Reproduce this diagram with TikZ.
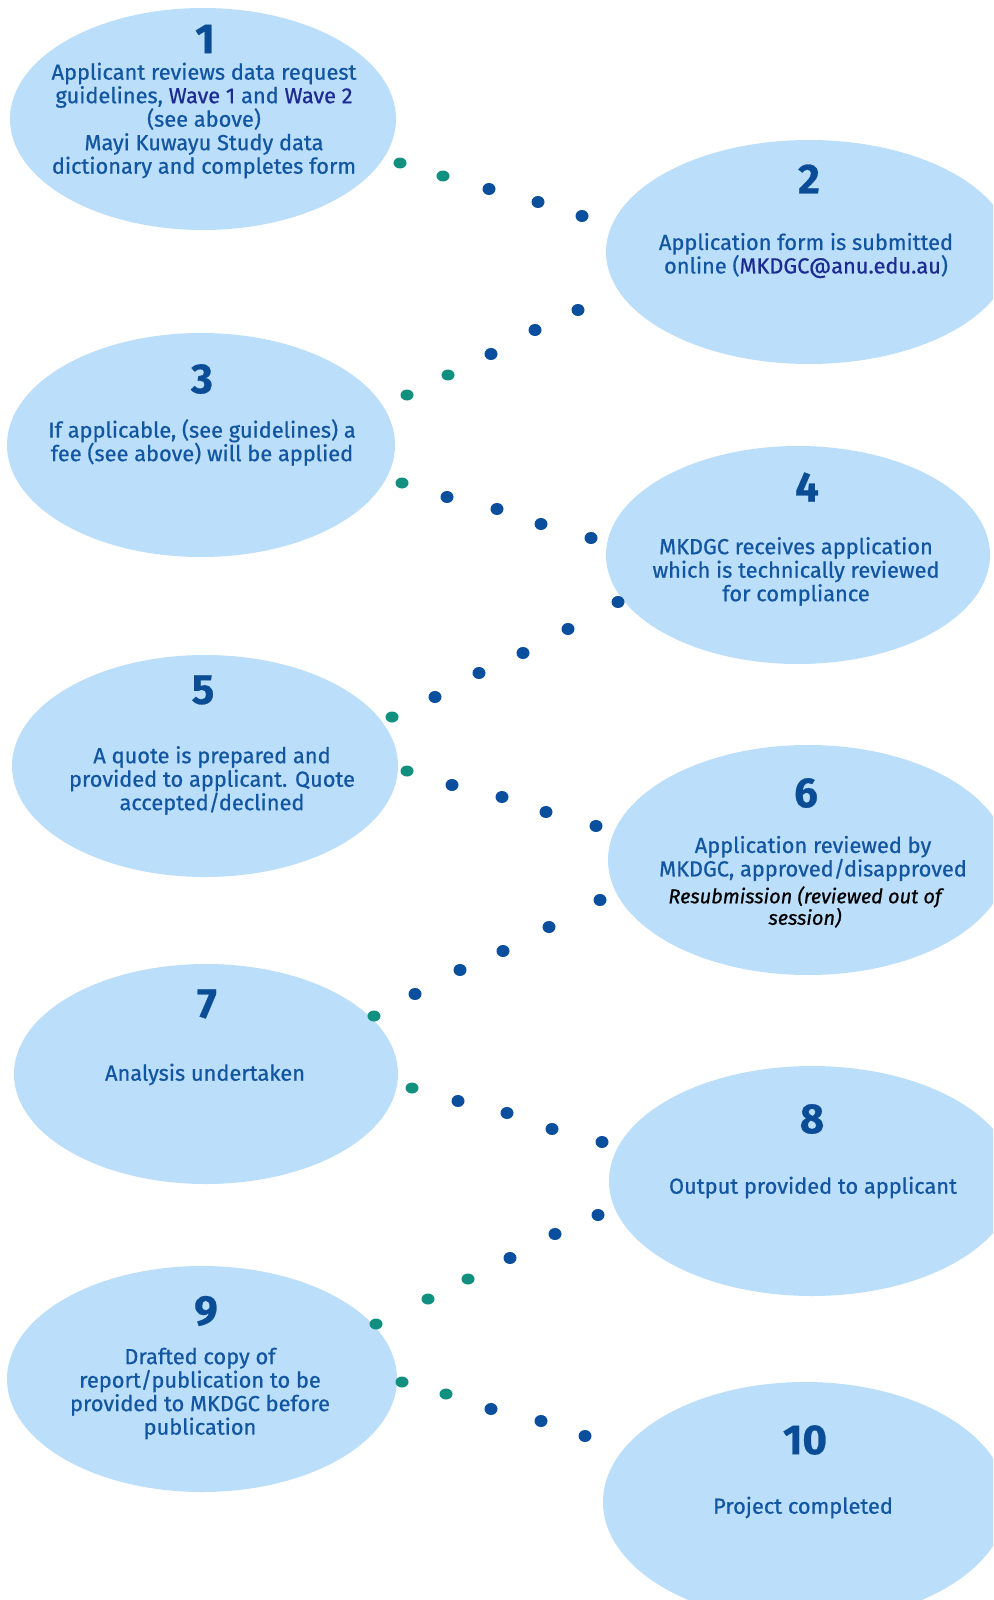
\documentclass[tikz,border=0pt]{standalone}
\usepackage{fontspec}
\setmainfont{Fira Sans}
\newfontfamily\medfont{Fira Sans}[FakeBold=0.7]
\newfontfamily\meditfont{Fira Sans Italic}[FakeBold=0.8]
\newfontfamily\numfont{Fira Sans Bold}[FakeBold=0.6]
\usetikzlibrary{shapes.geometric}
\definecolor{fillblue}{RGB}{187,222,250}
\definecolor{txtblue}{RGB}{18,86,162}
\definecolor{numblue}{RGB}{10,76,150}
\definecolor{linkblue}{RGB}{28,42,145}
\definecolor{dotblue}{RGB}{10,78,158}
\definecolor{dotteal}{RGB}{17,144,127}
\tikzset{
  bubble/.style={ellipse, fill=fillblue, draw=none, inner sep=0pt},
  num/.style={text=numblue, font=\numfont\fontsize{42}{44}\selectfont, inner sep=0pt},
  body/.style={text=txtblue, align=center, font=\medfont\fontsize{21.8}{23.5}\selectfont, inner sep=0pt},
  note/.style={text=black, align=center, font=\meditfont\fontsize{20}{21.5}\selectfont, inner sep=0pt},
  bd/.style={fill=dotblue},
  td/.style={fill=dotteal}
}
\newcommand{\dotb}[1]{\fill[bd] #1 ellipse (6.5 and 6);}
\newcommand{\dott}[1]{\fill[td] #1 ellipse (6.5 and 5.5);}
\begin{document}
\begin{tikzpicture}[x=1pt,y=-1pt]
\useasboundingbox (0,0) rectangle (993,1600);
\fill[white] (0,0) rectangle (993,1600);
\clip (0,0) rectangle (993,1600);
% bubbles
\node[bubble, minimum width=386, minimum height=222] (e1) at (203,119) {};
\node[bubble, minimum width=406, minimum height=224] (e2) at (809,252) {};
\node[bubble, minimum width=388, minimum height=224] (e3) at (201,445) {};
\node[bubble, minimum width=384, minimum height=218] (e4) at (798,555) {};
\node[bubble, minimum width=386, minimum height=222] (e5) at (205,766) {};
\node[bubble, minimum width=400, minimum height=230] (e6) at (808,860) {};
\node[bubble, minimum width=384, minimum height=220] (e7) at (206,1074) {};
\node[bubble, minimum width=406, minimum height=230] (e8) at (812,1181) {};
\node[bubble, minimum width=390, minimum height=226] (e9) at (202,1379) {};
\node[bubble, minimum width=404, minimum height=240] (e10) at (805,1502) {};
% numbers
\node[num] (n1) at (205,39) {1};
\node[num] (n2) at (809,179) {2};
\node[num] (n3) at (202,379) {3};
\node[num] (n4) at (807,487) {4};
\node[num] (n5) at (203,690) {5};
\node[num] (n6) at (806,793) {6};
\node[num] (n7) at (207,1004) {7};
\node[num] (n8) at (812,1119) {8};
\node[num] (n9) at (206,1311) {9};
\node[num] (n10) at (805,1440) {10};
% texts
\node[body] (t1) at (204,120.5) {Applicant reviews data request\\guidelines, \textcolor{linkblue}{Wave 1} and \textcolor{linkblue}{Wave 2}\\(see above)\\Mayi Kuwayu Study data\\dictionary and completes form};
\node[body] (t2) at (806,255.5) {Application form is submitted\\online (\textcolor{linkblue}{MKDGC@anu.edu.au})};
\node[body] (t3) at (202,442.5) {If applicable, (see guidelines) a\\fee (see above) will be applied};
\node[body] (t4) at (796,571.5) {MKDGC receives application\\which is technically reviewed\\for compliance};
\node[body] (t5) at (212,780.5) {A quote is prepared and\\provided to applicant. Quote\\accepted/declined};
\node[body] (t6) at (813,858.5) {Application reviewed by\\MKDGC, approved/disapproved};
\node[note] (t6b) at (805,907) {Resubmission (reviewed out of\\session)};
\node[body] (t7) at (205,1074.5) {Analysis undertaken};
\node[body] (t8) at (813,1187.5) {Output provided to applicant};
\node[body] (t9) at (200,1393.5) {Drafted copy of\\report/publication to be\\provided to MKDGC before\\publication};
\node[body] (t10) at (803,1507.5) {Project completed};
% dotted connectors
\dott{(400,163)}\dott{(443,176)}\dotb{(489,189)}\dotb{(538,202)}\dotb{(582,216)}
\dotb{(578,310)}\dotb{(535,330)}\dotb{(491,354)}\dott{(448,375)}\dott{(407,395)}
\dott{(402,483)}\dotb{(447,497)}\dotb{(497,509)}\dotb{(541,524)}\dotb{(591,538)}
\dotb{(618,602)}\dotb{(568,629)}\dotb{(523,653)}\dotb{(479,673)}\dotb{(435,697)}\dott{(392,717)}
\dott{(407,771)}\dotb{(452,785)}\dotb{(502,797)}\dotb{(546,812)}\dotb{(596,826)}
\dotb{(600,900)}\dotb{(549,927)}\dotb{(503,951)}\dotb{(460,970)}\dotb{(415,994)}\dott{(374,1016)}
\dott{(412,1088)}\dotb{(458,1101)}\dotb{(507,1113)}\dotb{(552,1129)}\dotb{(602,1142)}
\dotb{(598,1215)}\dotb{(555,1234)}\dotb{(510,1258)}\dott{(468,1279)}\dott{(428,1299)}\dott{(376,1324)}
\dott{(402,1382)}\dott{(446,1394)}\dotb{(491,1409)}\dotb{(541,1421)}\dotb{(585,1436)}
\end{tikzpicture}
\end{document}
